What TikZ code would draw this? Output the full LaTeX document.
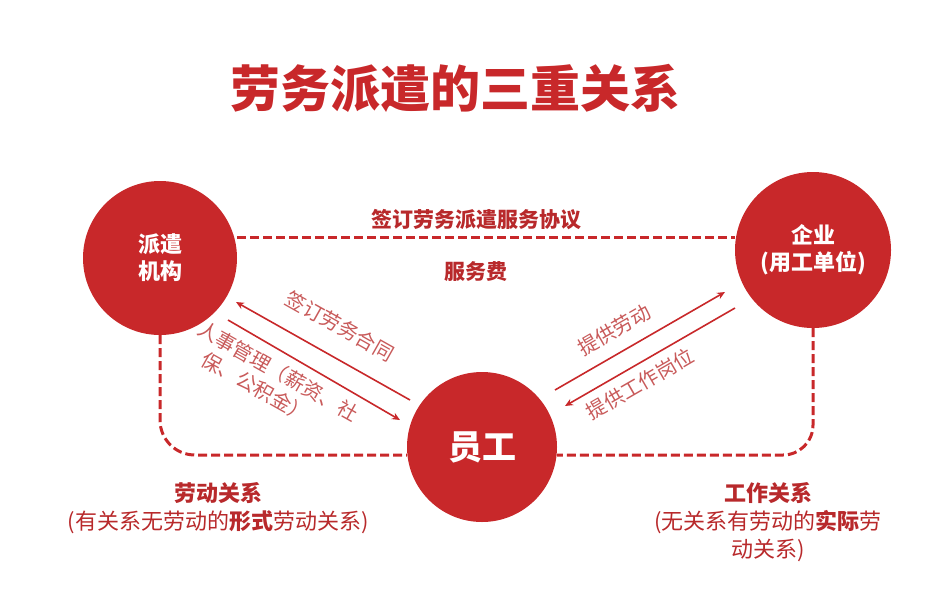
\documentclass[tikz,border=0pt]{standalone}
\usepackage{fontspec}
\setmainfont{Noto Sans CJK SC}
\usetikzlibrary{arrows.meta}
\definecolor{cred}{HTML}{C8282A}
\definecolor{tred}{HTML}{B8292B}
\definecolor{lred}{HTML}{C85A5A}
\begin{document}
\begin{tikzpicture}[x=1pt,y=-1pt,
  circ/.style={circle,fill=cred,text=white,font=\bfseries\fontsize{22}{27}\selectfont,align=center,inner sep=0pt},
  dline/.style={cred,line width=3pt,dash pattern=on 9pt off 4pt},
  arr/.style={cred,line width=1.6pt,-{Stealth[length=8pt,width=7pt]}},
  lbl/.style={text=lred,font=\fontsize{20}{25}\selectfont,align=left,inner sep=1pt},
  btxt/.style={text=tred,font=\fontsize{22}{28}\selectfont,align=center}]
\useasboundingbox (0,0) rectangle (939,595);
\node[text=cred,font=\bfseries\fontsize{50}{54}\selectfont] (title) at (455,88) {劳务派遣的三重关系};
\node[circ,minimum size=154pt] (L) at (160,258) {派遣\\机构};
\node[circ,minimum size=156pt] (R) at (813,250) {企业\\(用工单位)};
\node[circ,minimum size=150pt,font=\bfseries\fontsize{34}{38}\selectfont] (C) at (482,447) {员工};
\draw[dline] (L.east |- 0,237) -- (R.west |- 0,237);
\node[text=tred,font=\bfseries\fontsize{21}{24}\selectfont] (top) at (476,220) {签订劳务派遣服务协议};
\node[text=tred,font=\bfseries\fontsize{21}{24}\selectfont] (fee) at (476,272) {服务费};
\coordinate (lb) at (160,420);
\coordinate (rb) at (813,425);
\draw[dline] (L.south) -- (lb) to[out=-90,in=180] (195,455) -- (C.west |- 0,455);
\draw[dline] (R.south) -- (rb) to[out=-90,in=0] (783,455) -- (C.east |- 0,455);
\coordinate (a1s) at (410,400); \coordinate (a1e) at (236,302);
\coordinate (a2s) at (228,320); \coordinate (a2e) at (400,420);
\coordinate (b1s) at (555,390); \coordinate (b1e) at (725,292);
\coordinate (b2s) at (735,308); \coordinate (b2e) at (565,406);
\draw[arr] (a1s) -- (a1e);
\draw[arr] (a2s) -- (a2e);
\draw[arr] (b1s) -- (b1e);
\draw[arr] (b2s) -- (b2e);
\node[lbl,rotate=-29.4] (t1) at (340,326) {签订劳务合同};
\node[lbl,rotate=-29.4] (t2) at (272,382) {人事管理（薪资、社\\\hspace*{0.9em}保、公积金）};
\node[lbl,rotate=30] (t3) at (614,330) {提供劳动};
\node[lbl,rotate=30] (t4) at (640,384) {提供工作岗位};
\node[btxt] (b1) at (218,508) {\bfseries 劳动关系\\(有关系无劳动的\textbf{形式}劳动关系)};
\node[btxt] (b2) at (768,522) {\bfseries 工作关系\\(无关系有劳动的\textbf{实际}劳\\动关系)};
\end{tikzpicture}
\end{document}
